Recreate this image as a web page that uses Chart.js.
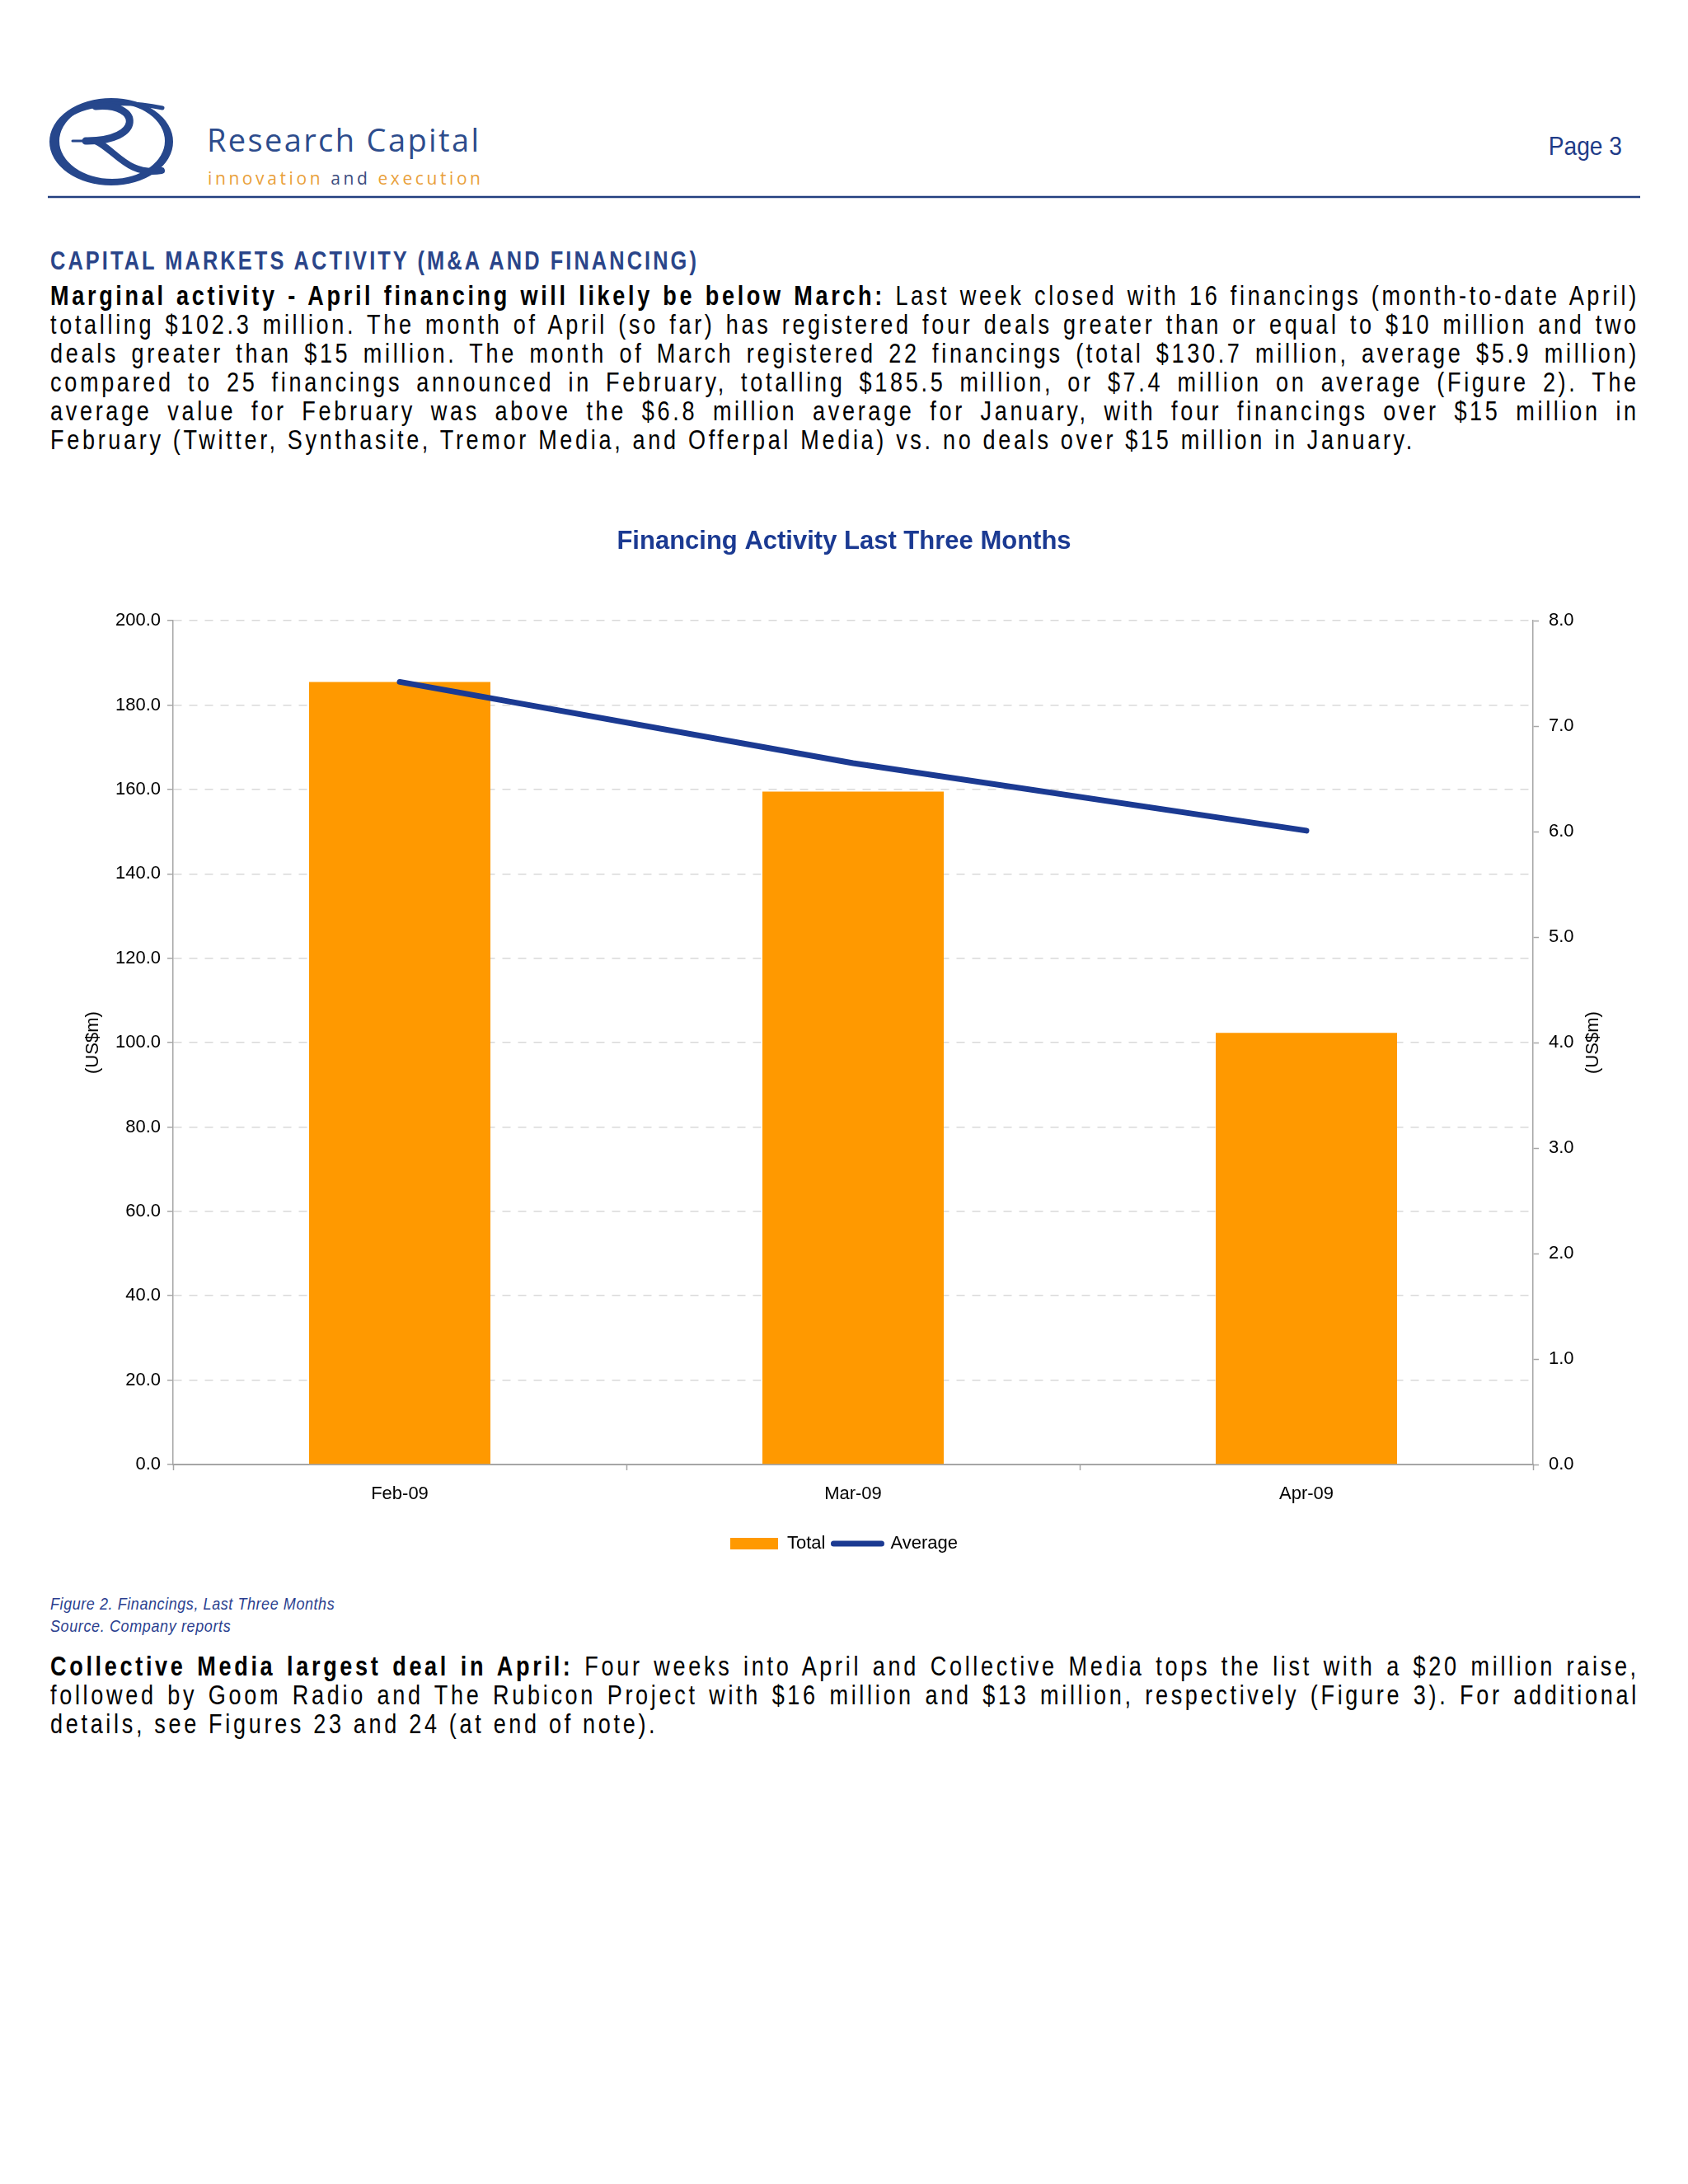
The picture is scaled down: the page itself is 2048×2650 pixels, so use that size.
<!DOCTYPE html>
<html>
<head>
<meta charset="utf-8">
<script src="https://cdn.jsdelivr.net/npm/chart.js@4.4.0/dist/chart.umd.min.js"></script>
<style>
  html, body { margin:0; padding:0; background:#ffffff; }
  body { width:2048px; height:2650px; position:relative; overflow:hidden;
         font-family:"Liberation Sans", Arial, Helvetica, sans-serif; }
  #overlay { position:absolute; left:0; top:0; width:2048px; height:2650px; pointer-events:none; }
  .para { position:absolute; left:61px; width:1928px; font-size:33px; line-height:35px; color:#000; }
  .ln { height:35px; width:2351px; overflow:visible; transform:scaleX(0.82); transform-origin:0 0; }
  .ln.j { text-align:justify; text-align-last:justify; }
  .ln.l { text-align:left; }
  #chartBox { position:absolute; left:0; top:600px; width:2048px; height:1294px; }
</style>
</head>
<body>

<svg id="overlay" xmlns="http://www.w3.org/2000/svg" width="2048" height="2650" viewBox="0 0 2048 2650">
  <!-- logo ring -->
  <path fill="#26478c" fill-rule="evenodd"
        d="M60,172 a75,53 0 1,0 150,0 a75,53 0 1,0 -150,0 Z M72,171 a64,46 0 1,0 128,0 a64,46 0 1,0 -128,0 Z"/>
  <g fill="none" stroke="#26478c" stroke-linecap="round">
    <path d="M 84 140 C 105 126, 150 121, 197 131" stroke-width="5"/>
    <path d="M 116 129 C 172 124, 174 172, 104 171" stroke-width="9"/>
    <path d="M 88 171 L 124 171" stroke-width="3"/>
    <path d="M 116 171 C 140 182, 155 214, 196 207" stroke-width="8"/>
  </g>
  <text x="251" y="184" font-family="'Open Sans', 'Liberation Sans', sans-serif" font-size="38" font-weight="400"
        fill="#2d4c8c" textLength="330" lengthAdjust="spacing">Research Capital</text>
  <text x="252" y="224" font-family="'Open Sans', 'Liberation Sans', sans-serif" font-size="21"
        textLength="331" lengthAdjust="spacing"><tspan fill="#e99f3a">innovation </tspan><tspan fill="#3b4c7e">and</tspan><tspan fill="#e99f3a"> execution</tspan></text>
  <text x="1968" y="188" text-anchor="end" font-family="'Liberation Sans', Arial, sans-serif" font-size="32" fill="#1f3c88"
        transform="translate(1968,0) scale(0.88,1) translate(-1968,0)">Page 3</text>
  <line x1="58" y1="239" x2="1990" y2="239" stroke="#223f7f" stroke-width="2.5"/>

  <text x="61" y="327" font-family="'Liberation Sans', Arial, sans-serif" font-size="31" font-weight="bold"
        fill="#2a4589" textLength="956" lengthAdjust="spacing"
        transform="translate(61,0) scale(0.82,1) translate(-61,0)">CAPITAL MARKETS ACTIVITY (M&amp;A AND FINANCING)</text>

  <text x="61" y="1953" font-family="'Liberation Sans', Arial, sans-serif" font-size="20" font-style="italic"
        fill="#2b3f8f" textLength="383" lengthAdjust="spacing"
        transform="translate(61,0) scale(0.9,1) translate(-61,0)">Figure 2. Financings, Last Three Months</text>
  <text x="61" y="1980" font-family="'Liberation Sans', Arial, sans-serif" font-size="20" font-style="italic"
        fill="#2b3f8f" textLength="243" lengthAdjust="spacing"
        transform="translate(61,0) scale(0.9,1) translate(-61,0)">Source. Company reports</text>
</svg>

<div class="para" id="p1" style="top:341px;">
  <div class="ln j"><b>Marginal activity - April financing will likely be below March:</b> Last week closed with 16 financings (month-to-date April)</div>
  <div class="ln j">totalling $102.3 million. The month of April (so far) has registered four deals greater than or equal to $10 million and two</div>
  <div class="ln j">deals greater than $15 million. The month of March registered 22 financings (total $130.7 million, average $5.9 million)</div>
  <div class="ln j">compared to 25 financings announced in February, totalling $185.5 million, or $7.4 million on average (Figure 2). The</div>
  <div class="ln j">average value for February was above the $6.8 million average for January, with four financings over $15 million in</div>
  <div class="ln l" id="p1last">February (Twitter, Synthasite, Tremor Media, and Offerpal Media) vs. no deals over $15 million in January.</div>
</div>

<div id="chartBox"><canvas id="chart" width="2048" height="1294"></canvas></div>

<div class="para" id="p2" style="top:2004px;">
  <div class="ln j"><b>Collective Media largest deal in April:</b> Four weeks into April and Collective Media tops the list with a $20 million raise,</div>
  <div class="ln j">followed by Goom Radio and The Rubicon Project with $16 million and $13 million, respectively (Figure 3). For additional</div>
  <div class="ln l">details, see Figures 23 and 24 (at end of note).</div>
</div>

<script>
// ---- data ----
const months = ['Feb-09', 'Mar-09', 'Apr-09'];
const totalValues = [185.5, 159.5, 102.3];      // US$m, left axis
const averageValues = [7.42, 6.65, 6.01];       // US$m, right axis
const leftAxis = { min: 0, max: 200, step: 20 };
const rightAxis = { min: 0, max: 8, step: 1 };
const axisTitle = '(US$m)';
const chartTitle = 'Financing Activity Last Three Months';
const seriesNames = ['Total', 'Average'];

// ---- styles ----
const NAVY = '#1b3a92';
const ORANGE = '#ff9900';
const AXIS = '#a6a6a6';
const GRID = '#d9d9d9';
const FONT = '"Liberation Sans", Arial, Helvetica, sans-serif';
const SQUEEZE = 0.82;

// ---- paragraph typography (condensed body text) ----
function measure(el) {
  const s = el.style;
  const prev = [s.display, s.width, s.whiteSpace];
  s.display = 'inline-block'; s.width = 'auto'; s.whiteSpace = 'nowrap';
  const w = el.offsetWidth;
  s.display = prev[0]; s.width = prev[1]; s.whiteSpace = prev[2];
  return w;
}
(function setupParagraphs() {
  const paras = document.querySelectorAll('.para');
  const last = document.getElementById('p1last');
  paras.forEach(p => p.style.letterSpacing = '0px');
  const w0 = measure(last);
  const n = last.textContent.length;
  const ls = (1656 / SQUEEZE - w0) / n;
  paras.forEach(p => p.style.letterSpacing = ls + 'px');
  const maxW = 1924 / SQUEEZE;
  document.querySelectorAll('.ln.j').forEach(l => {
    const w = measure(l);
    if (w > maxW) {
      l.style.letterSpacing = (ls - (w - maxW) / l.textContent.trim().length) + 'px';
    }
  });
})();

// ---- right axis title plugin ----
const rightAxisTitle = {
  id: 'rightAxisTitle',
  afterDraw(chart) {
    const s = chart.scales.y1;
    const ctx = chart.ctx;
    ctx.save();
    ctx.font = '22px ' + FONT;
    ctx.fillStyle = '#000';
    ctx.textAlign = 'center';
    ctx.textBaseline = 'middle';
    ctx.translate(s.left + 73, (chart.chartArea.top + chart.chartArea.bottom) / 2);
    ctx.rotate(-Math.PI / 2);
    ctx.fillText(axisTitle, 0, 0);
    ctx.restore();
  }
};

new Chart(document.getElementById('chart'), {
  data: {
    labels: months,
    datasets: [
      {
        type: 'bar', label: seriesNames[0], data: totalValues, yAxisID: 'y',
        backgroundColor: ORANGE, borderWidth: 0, order: 2,
        categoryPercentage: 1.0, barPercentage: 0.4
      },
      {
        type: 'line', label: seriesNames[1], data: averageValues, yAxisID: 'y1',
        borderColor: NAVY, backgroundColor: NAVY, borderWidth: 7,
        borderCapStyle: 'round', borderJoinStyle: 'round',
        pointRadius: 0, pointHoverRadius: 0, pointBorderWidth: 7, pointBorderColor: NAVY,
        tension: 0, fill: false, order: 1
      }
    ]
  },
  options: {
    responsive: false,
    animation: false,
    layout: { padding: 0 },
    plugins: {
      tooltip: { enabled: false },
      title: {
        display: true, text: chartTitle, color: NAVY,
        font: { family: FONT, size: 31, weight: 'bold' },
        padding: { top: 39, bottom: 77 }
      },
      legend: {
        position: 'bottom',
        labels: {
          usePointStyle: true, pointStyleWidth: 58, boxHeight: 14,
          padding: 10, color: '#000',
          font: { family: FONT, size: 22 },
          sort: (a, b) => a.datasetIndex - b.datasetIndex,
          generateLabels(chart) {
            const items = Chart.defaults.plugins.legend.labels.generateLabels(chart);
            items.forEach(it => {
              if (it.datasetIndex === 1) {
                it.pointStyle = 'line'; it.lineWidth = 7; it.strokeStyle = NAVY; it.lineCap = 'round';
              } else {
                it.pointStyle = 'rect'; it.lineWidth = 0; it.fillStyle = ORANGE;
              }
            });
            return items;
          }
        }
      }
    },
    scales: {
      x: {
        type: 'category', offset: true,
        grid: { offset: true, drawOnChartArea: false, drawTicks: true, tickLength: 7, tickColor: AXIS, tickWidth: 1.5 },
        border: { color: AXIS, width: 2 },
        ticks: { color: '#000', font: { family: FONT, size: 22 }, padding: 16, maxRotation: 0 },
        afterFit(s) { s.height = 75; }
      },
      y: {
        position: 'left', min: leftAxis.min, max: leftAxis.max,
        ticks: { stepSize: leftAxis.step, color: '#000', font: { family: FONT, size: 22 }, padding: 8,
                 callback: v => Number(v).toFixed(1) },
        grid: { color: GRID, lineWidth: 1.5, borderDash: [10, 9], tickColor: AXIS, tickLength: 7, tickWidth: 1.5, tickBorderDash: [] },
        border: { color: AXIS, width: 1.5, dash: [10, 9] },
        title: { display: true, text: axisTitle, color: '#000', font: { family: FONT, size: 22 }, padding: { top: 100, bottom: 0 } },
        afterFit(s) { s.width = 210; }
      },
      y1: {
        position: 'right', min: rightAxis.min, max: rightAxis.max,
        ticks: { stepSize: rightAxis.step, color: '#000', font: { family: FONT, size: 22 }, padding: 12,
                 callback: v => Number(v).toFixed(1) },
        grid: { drawOnChartArea: false, tickColor: AXIS, tickLength: 7, tickWidth: 1.5 },
        border: { color: AXIS, width: 1.5 },
        afterFit(s) { s.width = 188; }
      }
    }
  },
  plugins: [rightAxisTitle]
});
</script>
</body>
</html>
